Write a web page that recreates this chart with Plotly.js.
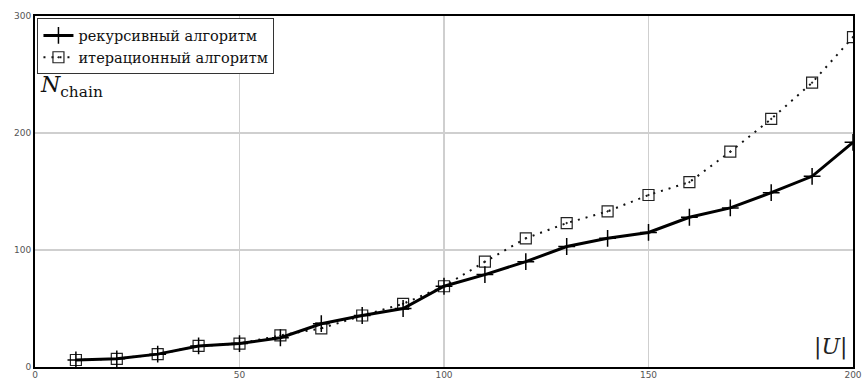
<!DOCTYPE html>
<html>
<head>
<meta charset="utf-8">
<script src="https://cdn.plot.ly/plotly-3.0.1.min.js"></script>
<style>
  html, body { margin: 0; padding: 0; background: #fff; }
  #chart { width: 863px; height: 381px; }
</style>
</head>
<body>
<div id="chart"></div>
<script>
// Set size |U| on the horizontal axis
const setSize = [10, 20, 30, 40, 50, 60, 70, 80, 90, 100, 110, 120, 130, 140, 150, 160, 170, 180, 190, 200];
// Number of chains produced by each algorithm
const recursiveChains = [6, 7, 11, 18, 20, 25, 37, 44, 50, 69, 79, 90, 103, 110, 115, 128, 136, 149, 163, 192];
const iterativeChains = [6, 7, 11, 18, 20, 27, 33, 44, 54, 69, 90, 110, 123, 133, 147, 158, 184, 212, 243, 282];
const seriesNames = ['рекурсивный алгоритм', 'итерационный алгоритм'];
const xTicks = [0, 50, 100, 150, 200];
const yTicks = [0, 100, 200, 300];

const serif = 'DejaVu Serif';
const tickFont = { family: 'DejaVu Sans', size: 9, color: '#555' };

const traces = [
  {
    x: setSize, y: iterativeChains, name: seriesNames[1],
    mode: 'lines+markers',
    line: { color: '#111', width: 2, dash: '2px,6px' },
    marker: { symbol: 'square-open-dot', size: 11, color: '#222', line: { width: 1.2, color: '#222' } },
    legendrank: 2
  },
  {
    x: setSize, y: recursiveChains, name: seriesNames[0],
    mode: 'lines+markers',
    line: { color: '#000', width: 3 },
    marker: { symbol: 'cross-thin-open', size: 12, color: '#000', line: { width: 1.5, color: '#000' } },
    legendrank: 1
  }
];

const layout = {
  width: 863, height: 381,
  font: { family: serif, size: 14, color: '#111' },
  margin: { l: 35, r: 10, t: 16, b: 14 },
  paper_bgcolor: '#fff', plot_bgcolor: '#fff',
  showlegend: true,
  legend: {
    x: 0.003, y: 0.993, xanchor: 'left', yanchor: 'top',
    bgcolor: '#fff', bordercolor: '#333', borderwidth: 1,
    font: { family: serif, size: 14.5, color: '#111' },
    tracegroupgap: 0, itemwidth: 30
  },
  xaxis: {
    range: [0, 200], tickvals: xTicks, ticktext: xTicks.map(String),
    showgrid: true, gridcolor: '#cfcfcf', gridwidth: 1.5,
    zeroline: false, showline: true, linecolor: '#000', linewidth: 2, mirror: true,
    ticks: '', ticklen: 0, ticklabelstandoff: -2,
    tickfont: tickFont
  },
  yaxis: {
    range: [0, 300], tickvals: yTicks, ticktext: yTicks.map(String),
    showgrid: true, gridcolor: '#cfcfcf', gridwidth: 1.5,
    zeroline: false, showline: true, linecolor: '#000', linewidth: 2, mirror: true,
    ticks: '', ticklen: 0,
    tickfont: tickFont
  },
  annotations: [
    {
      xref: 'paper', yref: 'paper', x: 0.004, y: 0.80, xanchor: 'left', yanchor: 'middle',
      text: '<i>N</i><sub>chain</sub>', showarrow: false,
      font: { family: serif, size: 22, color: '#111' }
    },
    {
      xref: 'paper', yref: 'paper', x: 0.995, y: 0.015, xanchor: 'right', yanchor: 'bottom',
      text: '|<i>U</i>|', showarrow: false,
      font: { family: serif, size: 22, color: '#222' }
    }
  ]
};

Plotly.newPlot('chart', traces, layout, { displayModeBar: false, staticPlot: true });
</script>
</body>
</html>
